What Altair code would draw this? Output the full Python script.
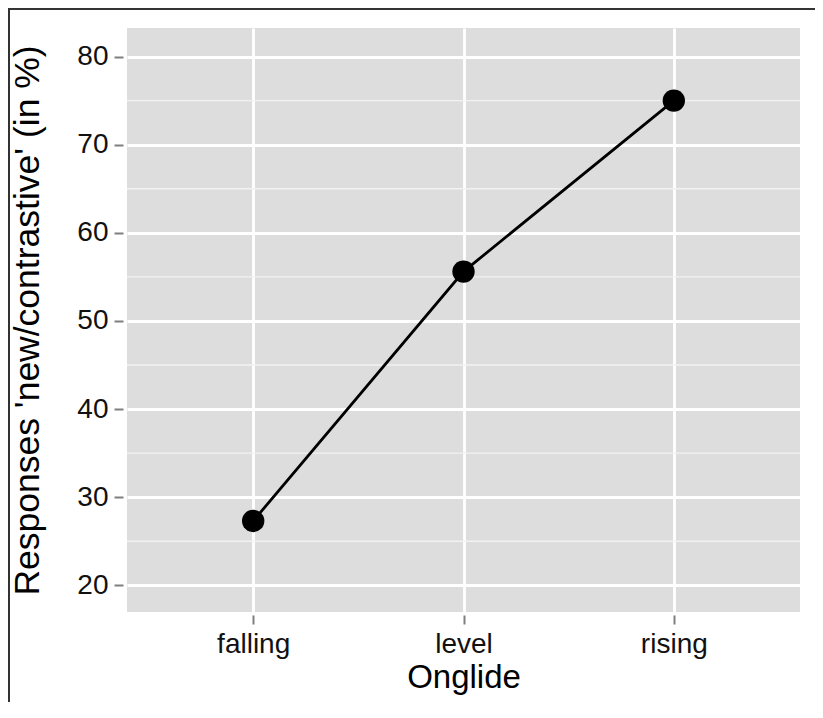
import altair as alt
import pandas as pd

# ---- data ----
onglide = ["falling", "level", "rising"]
responses = [27.3, 55.6, 75.0]
y_ticks = [20, 30, 40, 50, 60, 70, 80]
y_minor = [25, 35, 45, 55, 65, 75]

df = pd.DataFrame({"Onglide": onglide, "Responses": responses})
minor_df = pd.DataFrame({"v": y_minor})

W, H = 673, 584
PAD = {"left": 119, "top": 20, "right": 15, "bottom": 90}
YDOM = [16.97, 83.24]
FONT = "Liberation Sans"
YTITLE = "Responses 'new/contrastive' (in %)"

yscale = alt.Scale(domain=YDOM, nice=False, zero=False)
xscale = alt.Scale(type="point", padding=0.6)

y_axis = alt.Axis(
    title=YTITLE, titleFontSize=35.5, titleFont=FONT,
    titleFontWeight="normal", titleColor="black", titlePadding=31,
    values=y_ticks, labelFontSize=28, labelFont=FONT, labelColor="#111111",
    labelPadding=6, tickSize=9, tickWidth=2, tickColor="#7f7f7f", offset=4,
    domain=False, grid=True, gridColor="white", gridWidth=2.8,
)

x_enc = alt.X(
    "Onglide:N", sort=onglide, scale=xscale,
    axis=alt.Axis(
        title="Onglide", titleFontSize=33, titleFont=FONT, titleFontWeight="normal",
        titleColor="black", titlePadding=3,
        labelFontSize=28, labelFont=FONT, labelColor="#111111", labelAngle=0,
        labelPadding=6, tickSize=9, tickWidth=2, tickColor="#7f7f7f", offset=3,
        domain=False, grid=True, gridColor="white", gridWidth=2.8,
    ),
)
y_enc = alt.Y("Responses:Q", scale=yscale, axis=y_axis, title=YTITLE)

minor = alt.Chart(minor_df).mark_rule(color="#f2f2f2", strokeWidth=1.4).encode(
    y=alt.Y("v:Q", scale=yscale, axis=y_axis, title=YTITLE)
)

line = alt.Chart(df).mark_line(color="black", strokeWidth=2.8).encode(x=x_enc, y=y_enc)
pts = alt.Chart(df).mark_circle(color="black", size=500, opacity=1).encode(x=x_enc, y=y_enc)

frame_left = alt.Chart(minor_df).mark_rule(color="#333333", strokeWidth=1.5).encode(
    x=alt.value(-PAD["left"] + 0.8), y=alt.value(-PAD["top"]), y2=alt.value(H + PAD["bottom"])
)
frame_top = alt.Chart(minor_df).mark_rule(color="#333333", strokeWidth=1.5).encode(
    x=alt.value(-PAD["left"]), x2=alt.value(W + PAD["right"]), y=alt.value(-PAD["top"] + 0.8)
)

chart = (
    alt.layer(minor, line, pts, frame_left, frame_top)
    .properties(width=W, height=H, autosize=alt.AutoSizeParams(type="none"), padding=PAD)
    .configure(background="white")
    .configure_view(fill="#dddddd", stroke=None)
)

chart.save("out.html", embed_options={"renderer": "svg", "actions": False})
